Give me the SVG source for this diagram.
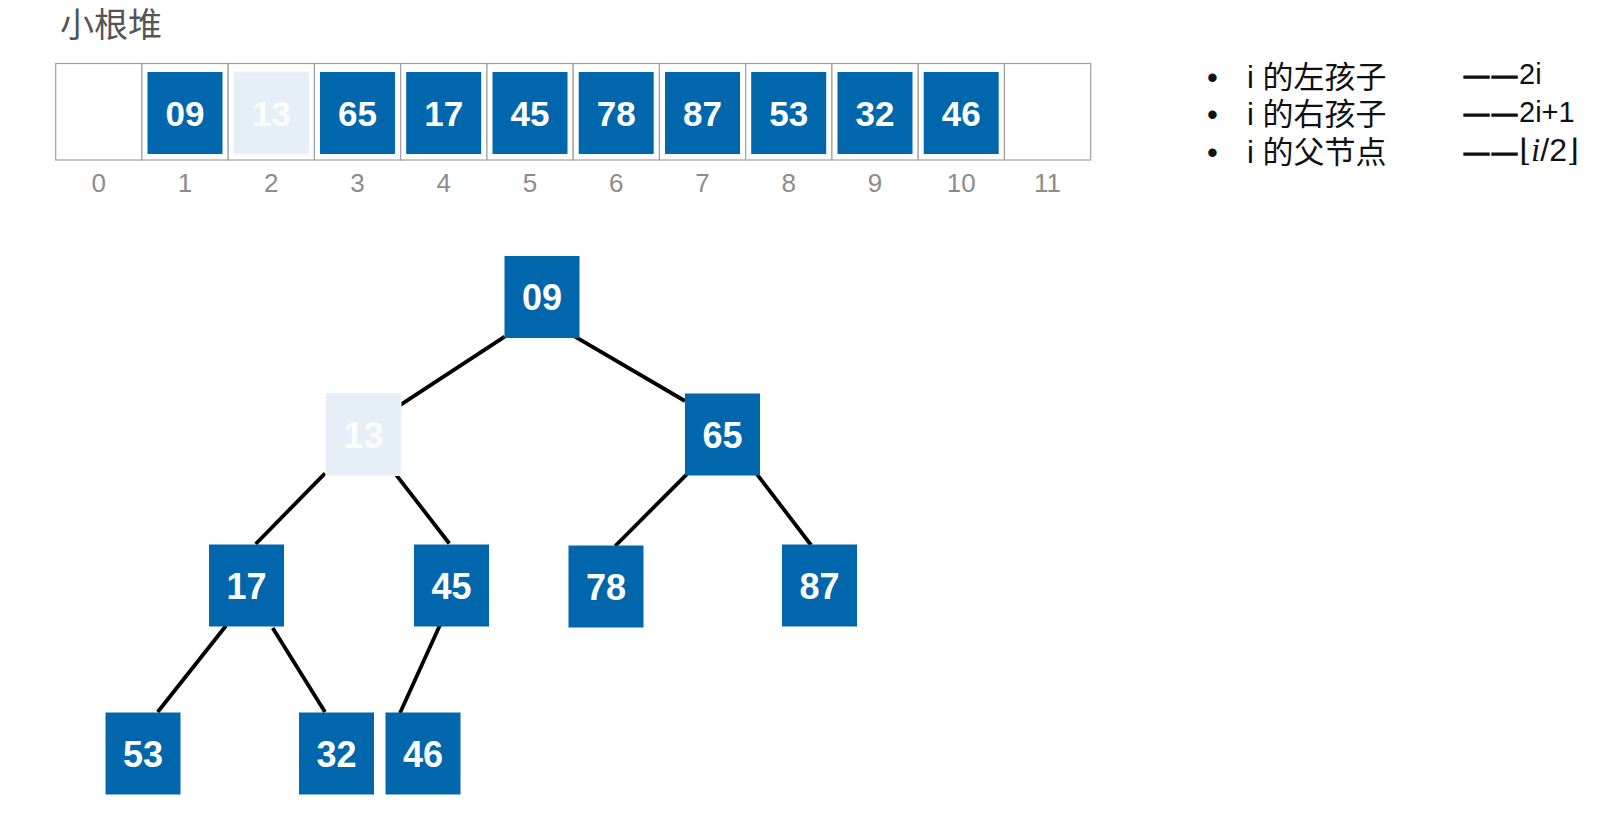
<svg xmlns="http://www.w3.org/2000/svg" width="1624" height="821" viewBox="0 0 1624 821">
<style>
.cell{fill:#fff;stroke:#a0a0a0;stroke-width:1.2}
.blue{fill:#0067AC}
.pale{fill:#E6EFF8;stroke:#EDF3FA;stroke-width:1}
.num{font-family:"Liberation Sans",Arial,sans-serif;font-weight:bold;fill:#fff;text-anchor:middle}
.anum{font-size:35px}
.tnum{font-size:36px}
.pnum{fill:#fff;opacity:0.85}
.idx{font-family:"Liberation Sans",Arial,sans-serif;font-size:26px;fill:#8c8c8c;text-anchor:middle}
.edge{stroke:#000;stroke-width:3.8;stroke-linecap:butt;fill:none}
.leg{font-family:"Liberation Sans","Noto Sans CJK SC",sans-serif;font-size:31px;fill:#111}
.frm{font-family:"Liberation Sans","DejaVu Sans",sans-serif;font-size:29px;fill:#111}
.dash{font-size:25px;stroke:#111;stroke-width:1.4}
.title{font-family:"Noto Sans CJK SC",sans-serif;font-size:34px;fill:#555}
</style>
<rect width="1624" height="821" fill="#fff"/>
<text class="title" x="60" y="37">小根堆</text>

<g id="array">
<rect class="cell" x="55.7" y="63.5" width="86.25" height="96.5"/>
<rect class="cell" x="141.95" y="63.5" width="86.25" height="96.5"/>
<rect class="cell" x="228.2" y="63.5" width="86.25" height="96.5"/>
<rect class="cell" x="314.45" y="63.5" width="86.25" height="96.5"/>
<rect class="cell" x="400.7" y="63.5" width="86.25" height="96.5"/>
<rect class="cell" x="486.95" y="63.5" width="86.25" height="96.5"/>
<rect class="cell" x="573.2" y="63.5" width="86.25" height="96.5"/>
<rect class="cell" x="659.45" y="63.5" width="86.25" height="96.5"/>
<rect class="cell" x="745.7" y="63.5" width="86.25" height="96.5"/>
<rect class="cell" x="831.95" y="63.5" width="86.25" height="96.5"/>
<rect class="cell" x="918.2" y="63.5" width="86.25" height="96.5"/>
<rect class="cell" x="1004.45" y="63.5" width="86.25" height="96.5"/>

<rect class="blue" x="147.5" y="72" width="75" height="82"/><text class="num anum" x="185" y="126">09</text>
<rect class="pale" x="234" y="72" width="75" height="82"/><text class="num anum pnum" x="271.5" y="126">13</text>
<rect class="blue" x="320" y="72" width="75" height="82"/><text class="num anum" x="357.5" y="126">65</text>
<rect class="blue" x="406.2" y="72" width="75" height="82"/><text class="num anum" x="443.7" y="126">17</text>
<rect class="blue" x="492.5" y="72" width="75" height="82"/><text class="num anum" x="530" y="126">45</text>
<rect class="blue" x="578.7" y="72" width="75" height="82"/><text class="num anum" x="616.2" y="126">78</text>
<rect class="blue" x="665" y="72" width="75" height="82"/><text class="num anum" x="702.5" y="126">87</text>
<rect class="blue" x="751.2" y="72" width="75" height="82"/><text class="num anum" x="788.7" y="126">53</text>
<rect class="blue" x="837.5" y="72" width="75" height="82"/><text class="num anum" x="875" y="126">32</text>
<rect class="blue" x="923.7" y="72" width="75" height="82"/><text class="num anum" x="961.2" y="126">46</text>

<text class="idx" x="98.8" y="192">0</text>
<text class="idx" x="185.1" y="192">1</text>
<text class="idx" x="271.3" y="192">2</text>
<text class="idx" x="357.6" y="192">3</text>
<text class="idx" x="443.8" y="192">4</text>
<text class="idx" x="530.1" y="192">5</text>
<text class="idx" x="616.3" y="192">6</text>
<text class="idx" x="702.6" y="192">7</text>
<text class="idx" x="788.8" y="192">8</text>
<text class="idx" x="875.1" y="192">9</text>
<text class="idx" x="961.3" y="192">10</text>
<text class="idx" x="1047.6" y="192">11</text>
</g>

<g id="legend">
<text class="leg" x="1207" y="88">•</text>
<text class="leg" x="1207" y="125">•</text>
<text class="leg" x="1207" y="163">•</text>
<text class="leg" x="1247" y="88">i 的左孩子</text>
<text class="leg" x="1247" y="125">i 的右孩子</text>
<text class="leg" x="1247" y="163">i 的父节点</text>
<text class="frm" x="1464" y="84"><tspan class="dash">—</tspan><tspan class="dash" dx="3">—</tspan><tspan dx="2">2i</tspan></text>
<text class="frm" x="1464" y="122"><tspan class="dash">—</tspan><tspan class="dash" dx="3">—</tspan><tspan dx="2">2i+1</tspan></text>
<text class="frm" x="1464" y="161"><tspan class="dash">—</tspan><tspan class="dash" dx="3">—</tspan><tspan dx="2" font-family="DejaVu Serif" font-size="31">⌊</tspan><tspan font-family="Liberation Serif" font-style="italic" font-size="33">i</tspan><tspan font-size="32">/2</tspan><tspan font-family="DejaVu Serif" font-size="31">⌋</tspan></text>
</g>

<g id="connectors">
<line class="edge" x1="504.7" y1="336.7" x2="399.3" y2="405.7"/>
<line class="edge" x1="575" y1="336.7" x2="685" y2="401"/>
<line class="edge" x1="325" y1="473.3" x2="255.7" y2="544"/>
<line class="edge" x1="395" y1="473.3" x2="449.3" y2="543.5"/>
<line class="edge" x1="686.7" y1="474.3" x2="615.2" y2="546"/>
<line class="edge" x1="757" y1="474.3" x2="811" y2="545"/>
<line class="edge" x1="226" y1="625.7" x2="157.7" y2="712"/>
<line class="edge" x1="272.7" y1="628" x2="325" y2="712"/>
<line class="edge" x1="440" y1="625" x2="400" y2="713"/>
</g>

<g id="node-09"><rect class="blue" x="504.5" y="256" width="75" height="82"/><text class="num tnum" x="542" y="310">09</text></g>
<g id="node-13"><rect class="pale" x="326" y="393.5" width="75" height="82"/><text class="num tnum pnum" x="363.5" y="447.5">13</text></g>
<g id="node-65"><rect class="blue" x="685" y="393.5" width="75" height="82"/><text class="num tnum" x="722.5" y="447.5">65</text></g>
<g id="node-17"><rect class="blue" x="209" y="544.5" width="75" height="82"/><text class="num tnum" x="246.5" y="598.5">17</text></g>
<g id="node-45"><rect class="blue" x="414" y="544.5" width="75" height="82"/><text class="num tnum" x="451.5" y="598.5">45</text></g>
<g id="node-78"><rect class="blue" x="568.5" y="545.5" width="75" height="82"/><text class="num tnum" x="606" y="599.5">78</text></g>
<g id="node-87"><rect class="blue" x="782" y="544.5" width="75" height="82"/><text class="num tnum" x="819.5" y="598.5">87</text></g>
<g id="node-53"><rect class="blue" x="105.5" y="712.5" width="75" height="82"/><text class="num tnum" x="143" y="766.5">53</text></g>
<g id="node-32"><rect class="blue" x="299" y="712.5" width="75" height="82"/><text class="num tnum" x="336.5" y="766.5">32</text></g>
<g id="node-46"><rect class="blue" x="385.5" y="712.5" width="75" height="82"/><text class="num tnum" x="423" y="766.5">46</text></g>
</svg>
